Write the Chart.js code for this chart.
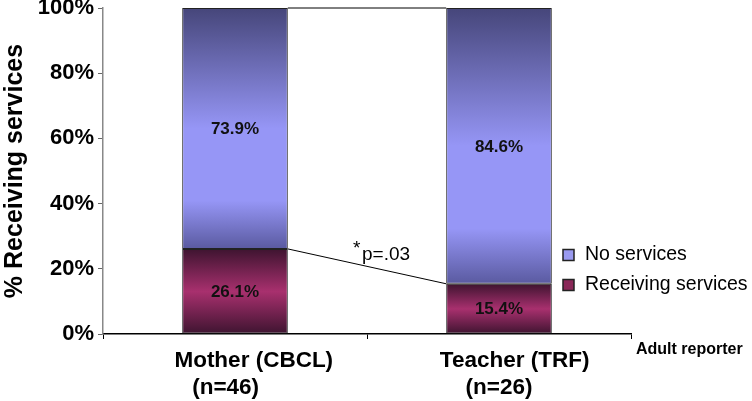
<!DOCTYPE html>
<html>
<head>
<meta charset="utf-8">
<script src="https://cdn.jsdelivr.net/npm/chart.js@4"></script>
<style>
html,body{margin:0;padding:0;background:#fff;}
#wrap{width:752px;height:401px;position:relative;}
</style>
</head>
<body>
<div id="wrap"><canvas id="c" width="752" height="401"></canvas></div>
<script>
const categories = [["      Mother (CBCL)", "(n=46)   "], ["     Teacher (TRF)", "(n=26)"]];
const receivingServices = [26.1, 15.4];
const noServices = [73.9, 84.6];
const yTicks = [0, 20, 40, 60, 80, 100];
const seriesNames = ["Receiving services", "No services"];
const pAnnotation = "p=.03";
const xTitle = "Adult reporter";
const yTitle = "% Receiving services";

const FONT = "'Liberation Sans', Arial, Helvetica, sans-serif";

const palettes = [
  {edge: '#3e1430', mid: '#a8306e', legend: '#8a2858'},
  {edge: '#46467a', mid: '#9696f6', legend: '#9a9af0'}
];

function makeGrad(ctx, top, bottom, pal, ds) {
  const g = ctx.createLinearGradient(0, top, 0, bottom);
  if (ds === 1) {
    g.addColorStop(0, pal.edge);
    g.addColorStop(0.5, pal.mid);
    g.addColorStop(0.8, pal.mid);
    g.addColorStop(1, '#5a5aa0');
  } else {
    g.addColorStop(0, pal.edge);
    g.addColorStop(0.5, pal.mid);
    g.addColorStop(1, pal.edge);
  }
  return g;
}

function barBg(context) {
  const chart = context.chart;
  const y = chart.scales.y;
  if (!y || !chart.chartArea) return palettes[context.datasetIndex].mid;
  const i = context.dataIndex;
  let lo, hi;
  if (context.datasetIndex === 0) { lo = 0; hi = receivingServices[i]; }
  else { lo = receivingServices[i]; hi = 100; }
  const top = y.getPixelForValue(hi), bottom = y.getPixelForValue(lo);
  return makeGrad(chart.ctx, top, bottom, palettes[context.datasetIndex], context.datasetIndex);
}

const overlay = {
  id: 'overlay',
  afterDatasetsDraw(chart) {
    const ctx = chart.ctx;
    const m0 = chart.getDatasetMeta(0).data;
    const m1 = chart.getDatasetMeta(1).data;
    ctx.save();
    ctx.strokeStyle = '#000';
    ctx.lineWidth = 1;
    [m0, m1].forEach(m => {
      const a = m[0], b = m[1];
      ctx.beginPath();
      ctx.moveTo(a.x + a.width / 2, a.y);
      ctx.lineTo(b.x - b.width / 2, b.y);
      ctx.stroke();
    });
    ctx.fillStyle = '#111';
    ctx.font = 'bold 17px ' + FONT;
    ctx.textAlign = 'center';
    ctx.textBaseline = 'middle';
    [[m0, receivingServices], [m1, noServices]].forEach(([m, vals]) => {
      m.forEach((el, i) => {
        ctx.fillText(vals[i].toFixed(1) + '%', el.x, (el.y + el.base) / 2 + 1);
      });
    });
    const a = m0[0], b = m0[1];
    const mx = (a.x + a.width / 2 + b.x - b.width / 2) / 2;
    ctx.fillStyle = '#000';
    ctx.font = '19px ' + FONT;
    ctx.textAlign = 'left';
    ctx.textBaseline = 'alphabetic';
    ctx.fillText('*', mx - 14, 254);
    ctx.fillText(pAnnotation, mx - 5, 260);
    const lx = 563;
    const items = [[1, 255], [0, 285]];
    items.forEach(([ds, cy]) => {
      ctx.fillStyle = palettes[ds].legend;
      ctx.fillRect(lx, cy - 5.5, 11, 11);
      ctx.strokeStyle = '#222';
      ctx.lineWidth = 1.5;
      ctx.strokeRect(lx, cy - 5.5, 11, 11);
      ctx.fillStyle = '#000';
      ctx.font = '19.5px ' + FONT;
      ctx.textBaseline = 'middle';
      ctx.fillText(seriesNames[ds], lx + 22, cy);
    });
    ctx.font = 'bold 16px ' + FONT;
    ctx.textBaseline = 'middle';
    ctx.textAlign = 'left';
    ctx.fillText(xTitle, 636, 350);
    ctx.restore();
  }
};

new Chart(document.getElementById('c'), {
  type: 'bar',
  data: {
    labels: categories,
    datasets: [
      {label: seriesNames[0], data: receivingServices, backgroundColor: barBg, borderColor: '#222', borderWidth: 1, borderSkipped: false, barPercentage: 0.4, categoryPercentage: 1},
      {label: seriesNames[1], data: noServices, backgroundColor: barBg, borderColor: '#222', borderWidth: 1, borderSkipped: false, barPercentage: 0.4, categoryPercentage: 1}
    ]
  },
  options: {
    responsive: false,
    animation: false,
    devicePixelRatio: 1,
    layout: {autoPadding: false, padding: {top: 8, right: 121, left: 0, bottom: 0}},
    plugins: {legend: {display: false}, tooltip: {enabled: false}},
    scales: {
      x: {
        stacked: true,
        offset: true,
        border: {color: '#000', width: 1.5},
        grid: {offset: true, drawOnChartArea: false, drawTicks: true, tickLength: 5, color: '#000'},
        ticks: {color: '#000', font: {family: FONT, size: 22.5, weight: 'bold'}, maxRotation: 0, padding: 8, lineHeight: 1.2},
        afterFit(s) { s.height = 67; s.paddingLeft = 0; s.paddingRight = 0; }
      },
      y: {
        stacked: true,
        min: 0, max: 100,
        border: {color: '#888', width: 1.5},
        grid: {drawOnChartArea: false, drawTicks: true, tickLength: 5, color: '#666'},
        afterBuildTicks(s) { s.ticks = yTicks.map(v => ({value: v})); },
        ticks: {color: '#000', font: {family: FONT, size: 22, weight: 'bold'}, padding: 4, callback: v => v + '%'},
        title: {display: true, text: yTitle, color: '#000', font: {family: FONT, size: 25, weight: 'bold'}, padding: {top: 0, bottom: 2}},
        afterFit(s) { s.width = 103; s.paddingTop = 0; s.paddingBottom = 0; }
      }
    }
  },
  plugins: [overlay]
});
</script>
</body>
</html>
